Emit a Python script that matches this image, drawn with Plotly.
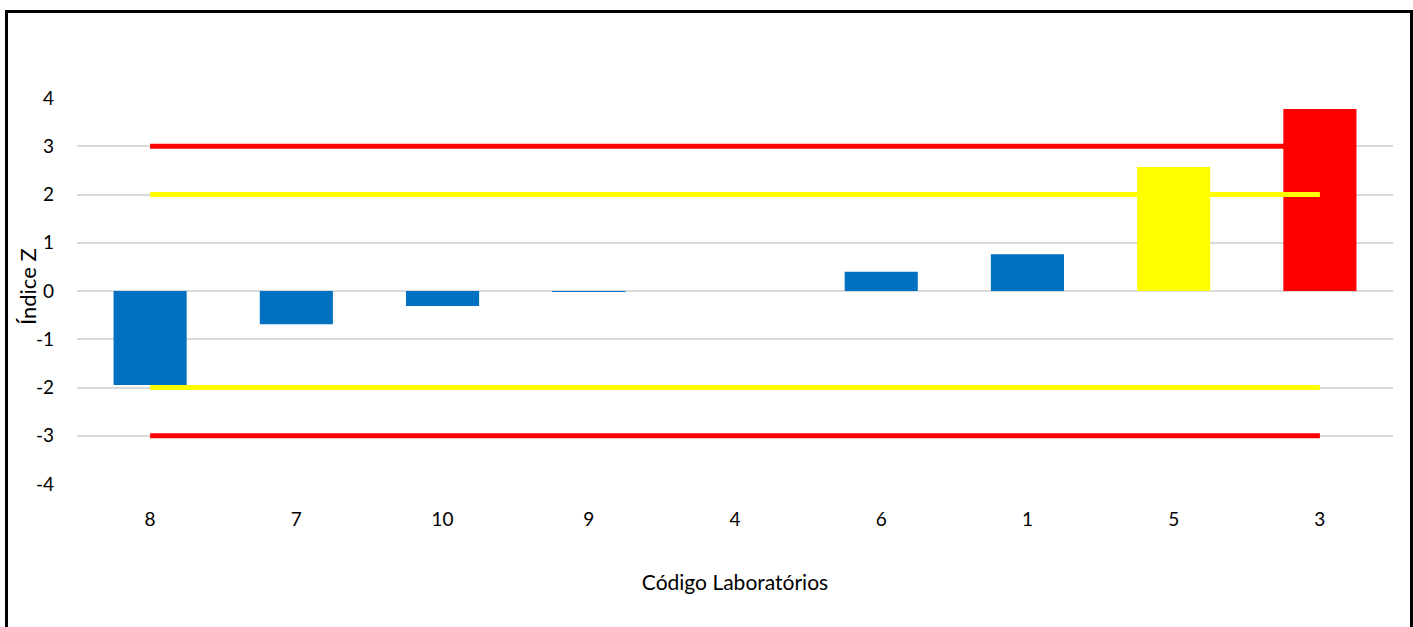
import plotly.graph_objects as go

labs = ["8", "7", "10", "9", "4", "6", "1", "5", "3"]
z_vals = [-1.95, -0.69, -0.31, -0.02, 0.0, 0.40, 0.76, 2.57, 3.77]
bar_colors = ["#0070C0"] * 7 + ["#FFFF00", "#FF0000"]
yellow_limit = 2
red_limit = 3
y_ticks = [-4, -3, -2, -1, 0, 1, 2, 3, 4]
y_tick_text = ["-4", "-3", "-2", "-1", "0", "1", "2", "3", "4"]

W, H = 1413, 627
ml, mr, mt, mb = 77, 20, 98, 143

fig = go.Figure()
fig.add_trace(go.Bar(x=labs, y=z_vals, marker=dict(color=bar_colors, line=dict(width=0)),
                     width=0.5, showlegend=False))
for val, col in [(red_limit, "#FF0000"), (-red_limit, "#FF0000"),
                 (yellow_limit, "#FFFF00"), (-yellow_limit, "#FFFF00")]:
    fig.add_trace(go.Scatter(x=[labs[0], labs[-1]], y=[val, val], mode="lines",
                             line=dict(color=col, width=5), showlegend=False))

pw = W - ml - mr
ph = H - mt - mb
def px_to_paper_x(p):
    return (p - ml) / pw
def px_to_paper_y(p):
    return (H - mb - p) / ph

fig.add_shape(type="rect", xref="paper", yref="paper",
              x0=px_to_paper_x(6.5), x1=px_to_paper_x(1411.5),
              y0=px_to_paper_y(650), y1=px_to_paper_y(11.5),
              line=dict(color="black", width=3), fillcolor="rgba(0,0,0,0)", layer="above")

fig.add_annotation(text="Índice Z", xref="paper", yref="paper",
                   x=px_to_paper_x(27), y=px_to_paper_y(287), textangle=-90,
                   showarrow=False, xanchor="center", yanchor="middle",
                   font=dict(size=22, color="black"))

fig.update_layout(
    width=W, height=H,
    margin=dict(l=ml, r=mr, t=mt, b=mb),
    paper_bgcolor="white", plot_bgcolor="white",
    font=dict(family="Lato, Open Sans, sans-serif", color="black", size=18),
    bargap=0.5,
    xaxis=dict(type="category", categoryorder="array", categoryarray=labs,
               showgrid=False, zeroline=False, showline=False, ticks="",
               tickfont=dict(size=19), ticklabelstandoff=22,
               title=dict(text="Código Laboratórios", font=dict(size=21), standoff=46)),
    yaxis=dict(range=[-4, 4], tickvals=y_ticks, ticktext=y_tick_text, showgrid=True,
               gridcolor="#D9D9D9", gridwidth=1.5, zeroline=False, showline=False, ticks="",
               tickfont=dict(size=19), ticklabelstandoff=22),
)
fig.write_html("out.html", config={"displayModeBar": False},
               post_script="document.body.style.margin='0';document.body.style.overflow='hidden';")
